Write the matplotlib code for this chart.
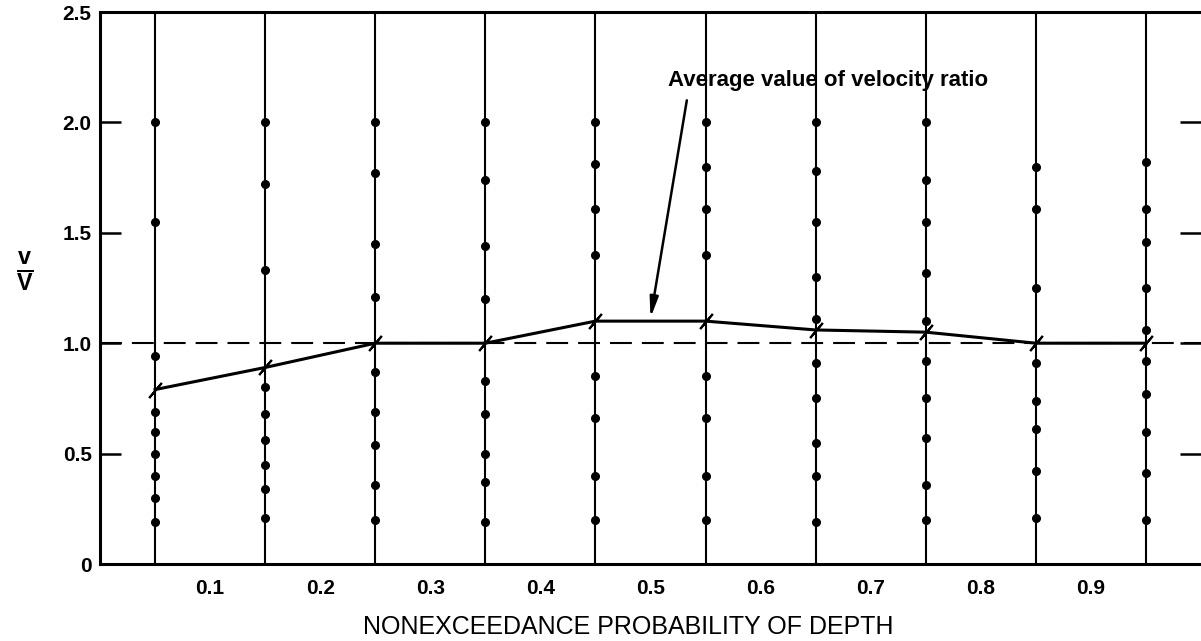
import matplotlib.pyplot as plt

plt.rcParams['font.family'] = ['Liberation Sans', 'DejaVu Sans']
plt.rcParams['mathtext.fontset'] = 'custom'
plt.rcParams['mathtext.rm'] = 'Liberation Sans'
plt.rcParams['mathtext.bf'] = 'Liberation Sans:bold'

# depth classes (centres of the probability bins)
p_depth = [0.05, 0.15, 0.25, 0.35, 0.45, 0.55, 0.65, 0.75, 0.85, 0.95]

# individual velocity ratios v/V, one list per depth class
v_005 = [2.0, 1.55, 0.94, 0.69, 0.60, 0.50, 0.40, 0.30, 0.19]
v_015 = [2.0, 1.72, 1.33, 0.80, 0.68, 0.56, 0.45, 0.34, 0.21]
v_025 = [2.0, 1.77, 1.45, 1.21, 0.87, 0.69, 0.54, 0.36, 0.20]
v_035 = [2.0, 1.74, 1.44, 1.20, 0.83, 0.68, 0.50, 0.37, 0.19]
v_045 = [2.0, 1.81, 1.61, 1.40, 0.85, 0.66, 0.40, 0.20]
v_055 = [2.0, 1.80, 1.61, 1.40, 0.85, 0.66, 0.40, 0.20]
v_065 = [2.0, 1.78, 1.55, 1.30, 1.11, 0.91, 0.75, 0.55, 0.40, 0.19]
v_075 = [2.0, 1.74, 1.55, 1.32, 1.10, 0.92, 0.75, 0.57, 0.36, 0.20]
v_085 = [1.80, 1.61, 1.25, 0.91, 0.74, 0.61, 0.42, 0.21]
v_095 = [1.82, 1.61, 1.46, 1.25, 1.06, 0.92, 0.77, 0.60, 0.41, 0.20]
ratios = [v_005, v_015, v_025, v_035, v_045, v_055, v_065, v_075, v_085, v_095]

# average velocity ratio per depth class
v_avg = [0.79, 0.89, 1.0, 1.0, 1.10, 1.10, 1.06, 1.05, 1.0, 1.0]

xticks = [0.1, 0.2, 0.3, 0.4, 0.5, 0.6, 0.7, 0.8, 0.9]
yticks = [0, 0.5, 1.0, 1.5, 2.0, 2.5]
ytick_labels = ['0', '0.5', '1.0', '1.5', '2.0', '2.5']

fig = plt.figure(figsize=(12.01, 6.41), dpi=100)
ax = fig.add_axes([100/1201, 77/641, 1101/1201, 552/641])

for x, vals in zip(p_depth, ratios):
    ax.axvline(x, color='black', lw=1.5, zorder=2)
    ax.plot([x]*len(vals), vals, 'o', color='black', ms=5.5, zorder=3)

ax.axhline(1.0, color='black', lw=1.5, dashes=(10.5, 4.8), zorder=2)
ax.plot(p_depth, v_avg, '-', color='black', lw=2.2, marker=(2, 2, -40),
        ms=14, mew=1.5, zorder=4)

ax.text(0.516, 2.19, 'Average value of velocity ratio', fontsize=16,
        fontweight='bold', ha='left', va='center')
ax.annotate('', xy=(0.5, 1.115), xytext=(0.533, 2.10),
            arrowprops=dict(arrowstyle='-|>,head_length=1.2,head_width=0.25',
                            color='black', lw=1.8, shrinkA=0, shrinkB=0))

ax.set_xlim(0, 1.0)
ax.set_ylim(0, 2.5)
ax.set_xticks(xticks)
ax.set_xticklabels([f'{t:.1f}' for t in xticks], fontsize=15, fontweight='bold')
ax.set_yticks(yticks)
ax.set_yticklabels(ytick_labels, fontsize=15, fontweight='bold')
ax.tick_params(axis='x', length=0, pad=11)
ax.tick_params(axis='y', direction='in', length=15, width=1.8, left=True,
               right=True, pad=6)

for s in ['left', 'bottom', 'top']:
    ax.spines[s].set_linewidth(2.2)
ax.spines['right'].set_visible(False)

ax.set_xlabel('NONEXCEEDANCE PROBABILITY OF DEPTH', fontsize=18,
              va='center', ha='center')
ax.xaxis.set_label_coords(0.48, -0.114)
ax.set_ylabel(r'$\frac{\mathbf{v}}{\mathbf{V}}$', fontsize=24, rotation=0,
              va='center', ha='center')
ax.yaxis.set_label_coords(-0.068, 0.53)

fig.savefig('out.png', dpi=100)
